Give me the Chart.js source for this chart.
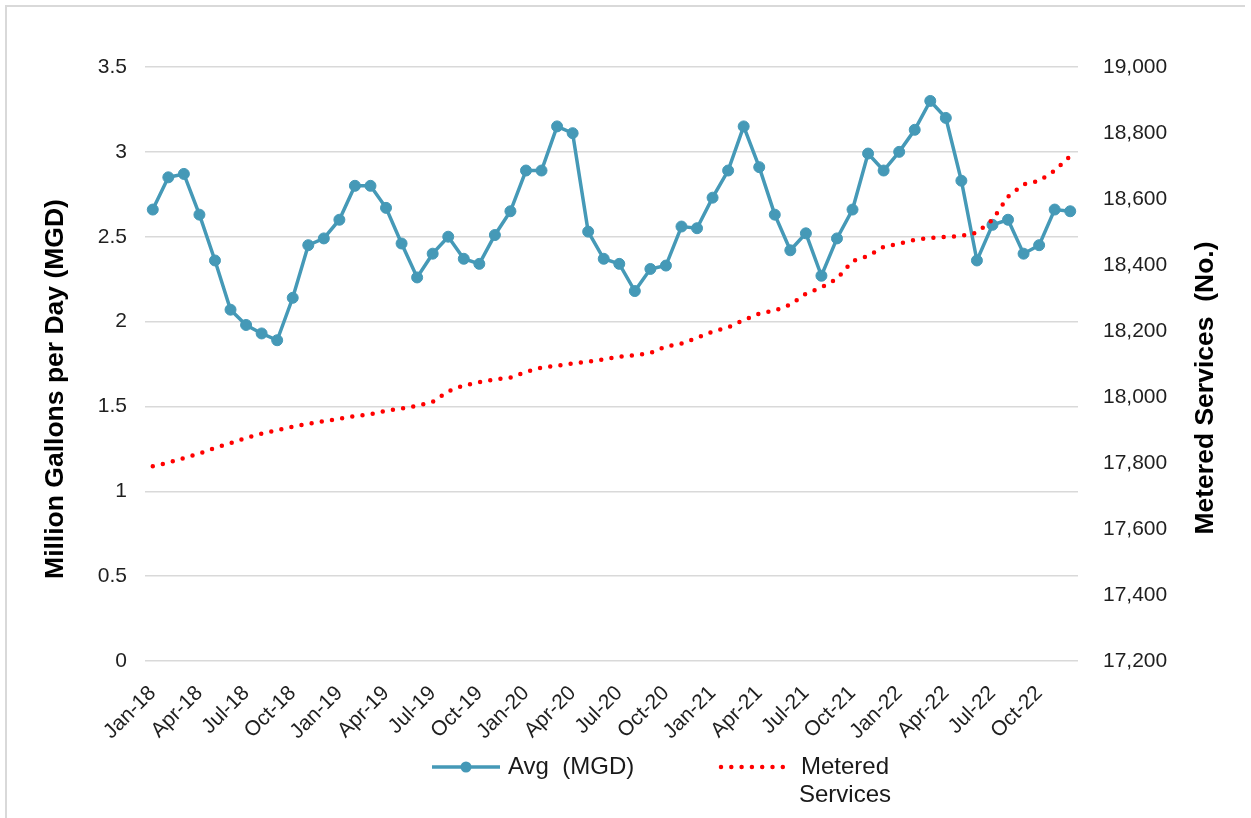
<!DOCTYPE html>
<html>
<head>
<meta charset="utf-8">
<script src="https://cdn.jsdelivr.net/npm/chart.js@4.4.1/dist/chart.umd.min.js"></script>
<style>
  html, body { margin: 0; padding: 0; background: #fff; overflow: hidden; }
  body { width: 1251px; height: 818px; position: relative; font-family: "Liberation Sans", Arial, sans-serif; }
  #frame { position: absolute; left: 5px; top: 5px; width: 1240px; height: 830px;
           border-left: 2px solid #d9d9d9; border-top: 2px solid #d9d9d9; box-sizing: border-box; }
  #wrap { position: absolute; left: 0; top: 0; width: 1251px; height: 818px; }
  .legend { position: absolute; font-size: 24px; color: #1a1a1a; white-space: pre; line-height: 28px; }
  .axis-title { position: absolute; width: 400px; height: 26px; line-height: 26px; margin-left: -200px; margin-top: -13px;
                text-align: center; font-weight: bold; font-size: 26.5px; color: #000; white-space: pre;
                transform: rotate(-90deg); transform-origin: 50% 50%; }
  svg.sample { position: absolute; overflow: visible; }
</style>
</head>
<body>
<div id="frame"></div>
<div id="wrap"><canvas id="c" width="1251" height="818"></canvas></div>

<div class="axis-title" style="left:54px;top:389px;">Million Gallons per Day (MGD)</div>
<div class="axis-title" style="left:1204px;top:388px;">Metered Services  (No.)</div>

<svg class="sample" style="left:0;top:0" width="1251" height="818">
  <line x1="432" y1="767" x2="500" y2="767" stroke="#4599B7" stroke-width="3.5"/>
  <circle cx="466" cy="767" r="5.5" fill="#4599B7"/>
  <line x1="721" y1="767" x2="790" y2="767" stroke="#ff0000" stroke-width="4.5"
        stroke-linecap="round" stroke-dasharray="0 10.3"/>
</svg>
<div class="legend" style="left:508px;top:752px;">Avg  (MGD)</div>
<div class="legend" style="left:785px;top:752px;width:120px;text-align:center;">Metered
Services</div>

<script>
// Monthly categories, Jan-18 .. Dec-22
const months = [
  "Jan-18","Feb-18","Mar-18","Apr-18","May-18","Jun-18","Jul-18","Aug-18","Sep-18","Oct-18","Nov-18","Dec-18",
  "Jan-19","Feb-19","Mar-19","Apr-19","May-19","Jun-19","Jul-19","Aug-19","Sep-19","Oct-19","Nov-19","Dec-19",
  "Jan-20","Feb-20","Mar-20","Apr-20","May-20","Jun-20","Jul-20","Aug-20","Sep-20","Oct-20","Nov-20","Dec-20",
  "Jan-21","Feb-21","Mar-21","Apr-21","May-21","Jun-21","Jul-21","Aug-21","Sep-21","Oct-21","Nov-21","Dec-21",
  "Jan-22","Feb-22","Mar-22","Apr-22","May-22","Jun-22","Jul-22","Aug-22","Sep-22","Oct-22","Nov-22","Dec-22"
];

// Average daily production, million gallons per day
const avgMGD = [
  2.66, 2.85, 2.87, 2.63, 2.36, 2.07, 1.98, 1.93, 1.89, 2.14, 2.45, 2.49,
  2.60, 2.80, 2.80, 2.67, 2.46, 2.26, 2.40, 2.50, 2.37, 2.34, 2.51, 2.65,
  2.89, 2.89, 3.15, 3.11, 2.53, 2.37, 2.34, 2.18, 2.31, 2.33, 2.56, 2.55,
  2.73, 2.89, 3.15, 2.91, 2.63, 2.42, 2.52, 2.27, 2.49, 2.66, 2.99, 2.89,
  3.00, 3.13, 3.30, 3.20, 2.83, 2.36, 2.57, 2.60, 2.40, 2.45, 2.66, 2.65
];

// Number of metered services
const meteredServices = [
  17790, 17801, 17815, 17829, 17846, 17860, 17876, 17889, 17899, 17910, 17919, 17927,
  17934, 17942, 17948, 17958, 17965, 17973, 17985, 18017, 18035, 18045, 18053, 18059,
  18076, 18089, 18095, 18102, 18107, 18114, 18122, 18127, 18133, 18153, 18162, 18179,
  18198, 18211, 18233, 18253, 18262, 18280, 18313, 18332, 18358, 18412, 18427, 18455,
  18465, 18476, 18482, 18485, 18488, 18498, 18537, 18607, 18644, 18655, 18686, 18730
];

// Axis ranges and tick steps
const mgdTicks = [0, 0.5, 1, 1.5, 2, 2.5, 3, 3.5];
const serviceTicks = [17200, 17400, 17600, 17800, 18000, 18200, 18400, 18600, 18800, 19000];

const tickFont = { family: "'Liberation Sans', Arial, sans-serif", size: 21 };
const tickColor = '#1f1f1f';

new Chart(document.getElementById('c'), {
  type: 'line',
  data: {
    labels: months,
    datasets: [
      {
        label: 'Avg  (MGD)',
        data: avgMGD,
        yAxisID: 'y',
        borderColor: '#4599B7',
        backgroundColor: '#4599B7',
        borderWidth: 3.5,
        pointRadius: 5.5,
        pointBorderWidth: 1,
        pointBackgroundColor: '#4599B7',
        pointBorderColor: '#4599B7',
        tension: 0,
        order: 2
      },
      {
        label: 'Metered Services',
        data: meteredServices,
        yAxisID: 'y1',
        borderColor: '#ff0000',
        borderWidth: 4.5,
        borderDash: [0, 10.3],
        borderCapStyle: 'round',
        pointRadius: 0,
        tension: 0,
        order: 1
      }
    ]
  },
  options: {
    responsive: false,
    animation: false,
    events: [],
    layout: { padding: { left: 0, right: 0, top: 67, bottom: 0 } },
    plugins: { legend: { display: false }, tooltip: { enabled: false } },
    scales: {
      x: {
        type: 'category',
        offset: true,
        grid: { display: false, drawTicks: false },
        border: { display: false },
        ticks: {
          autoSkip: false,
          minRotation: 45,
          maxRotation: 45,
          padding: 20,
          labelOffset: 0,
          color: tickColor,
          font: tickFont,
          callback: (v, i) => (i % 3 === 0 ? months[i] : '')
        },
        afterFit: (s) => { s.height = 157; }
      },
      y: {
        position: 'left',
        min: mgdTicks[0],
        max: mgdTicks[mgdTicks.length - 1],
        ticks: { stepSize: 0.5, padding: 18, color: tickColor, font: tickFont,
                 callback: (v) => String(v) },
        grid: { color: '#d9d9d9', lineWidth: 1.5, drawTicks: false },
        border: { display: false },
        afterFit: (s) => { s.width = 145; }
      },
      y1: {
        position: 'right',
        min: serviceTicks[0],
        max: serviceTicks[serviceTicks.length - 1],
        ticks: { stepSize: 200, padding: 25, color: tickColor, font: tickFont,
                 callback: (v) => v.toLocaleString('en-US') },
        grid: { display: false, drawTicks: false },
        border: { display: false },
        afterFit: (s) => { s.width = 173; }
      }
    }
  }
});
</script>
</body>
</html>
